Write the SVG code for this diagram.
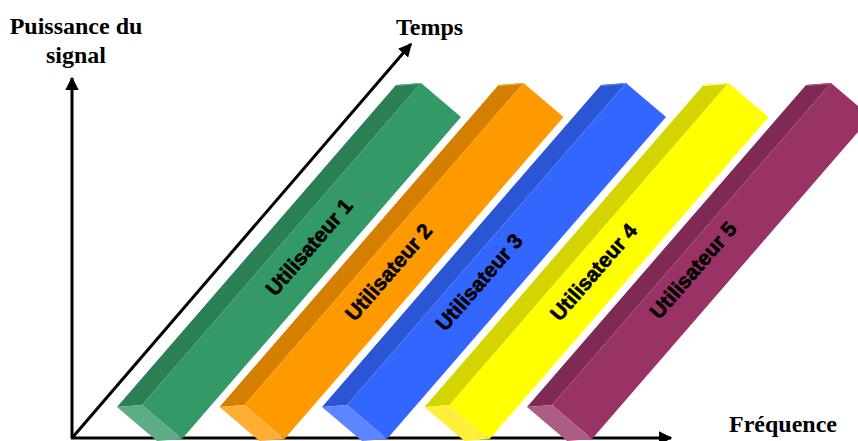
<svg xmlns="http://www.w3.org/2000/svg" width="858" height="441" viewBox="0 0 858 441">
<style>
.ax{stroke:#000;stroke-width:3;fill:none}
.lbl{font-family:"Liberation Serif","Times New Roman",serif;font-weight:bold;font-size:24px;fill:#000}
.ut{font-family:"Liberation Sans",Arial,sans-serif;font-weight:bold;font-size:21px;fill:#000;stroke:#000;stroke-width:0.6;text-anchor:middle;dominant-baseline:central}
</style>
<defs>
<marker id="ah" viewBox="0 0 10 10" refX="9" refY="5" markerWidth="4.5" markerHeight="4.5" orient="auto" markerUnits="strokeWidth">
<path d="M0,0 L10,5 L0,10 z" fill="#000"/>
</marker>
<polygon id="side" points="396,85 421,83 142,405 117,407"/>
<polygon id="front" points="421,83 461,117 182,439 142,405"/>
<polygon id="end" points="117,407 142,405 182,439 157,441"/>
<polygon id="top" points="396,85 421,83 422,84 397,86"/>
</defs>
<g id="axes" class="connectors">
<line class="ax" x1="72" y1="438" x2="72" y2="78" marker-end="url(#ah)"/>
<line class="ax" x1="71" y1="438" x2="671" y2="438" marker-end="url(#ah)"/>
<line class="ax" x1="72" y1="438" x2="411" y2="44" marker-end="url(#ah)"/>
</g>
<g id="user1">
<use href="#side" fill="#2B7F55"/><use href="#front" fill="#339966"/><use href="#end" fill="#5CAD85"/><use href="#top" fill="#5CAD85"/>
<text class="ut" transform="translate(309,247) rotate(-49.1)">Utilisateur 1</text>
</g>
<g id="user2" transform="translate(102.5,0)">
<use href="#side" fill="#D47F00"/><use href="#front" fill="#FF9900"/><use href="#end" fill="#FFAD33"/><use href="#top" fill="#FFAD33"/>
<text class="ut" transform="translate(286,272) rotate(-49.1)">Utilisateur 2</text>
</g>
<g id="user3" transform="translate(205,0)">
<use href="#side" fill="#2A55D4"/><use href="#front" fill="#3366FF"/><use href="#end" fill="#5C85FF"/><use href="#top" fill="#5C85FF"/>
<text class="ut" transform="translate(274,282) rotate(-49.1)">Utilisateur 3</text>
</g>
<g id="user4" transform="translate(307.5,0)">
<use href="#side" fill="#D4D400"/><use href="#front" fill="#FFFF00"/><use href="#end" fill="#FFEF3A"/><use href="#top" fill="#FFFF66"/>
<text class="ut" transform="translate(286,272) rotate(-49.1)">Utilisateur 4</text>
</g>
<g id="user5" transform="translate(410,0)">
<use href="#side" fill="#7F2A55"/><use href="#front" fill="#993366"/><use href="#end" fill="#AD5C85"/><use href="#top" fill="#AD5C85"/>
<text class="ut" transform="translate(283,270) rotate(-49.1)">Utilisateur 5</text>
</g>
<g id="labels">
<text class="lbl" x="76" y="34" text-anchor="middle">Puissance du</text>
<text class="lbl" x="76" y="63" text-anchor="middle">signal</text>
<text class="lbl" x="396" y="35">Temps</text>
<text class="lbl" x="729" y="432">Fréquence</text>
</g>
</svg>
